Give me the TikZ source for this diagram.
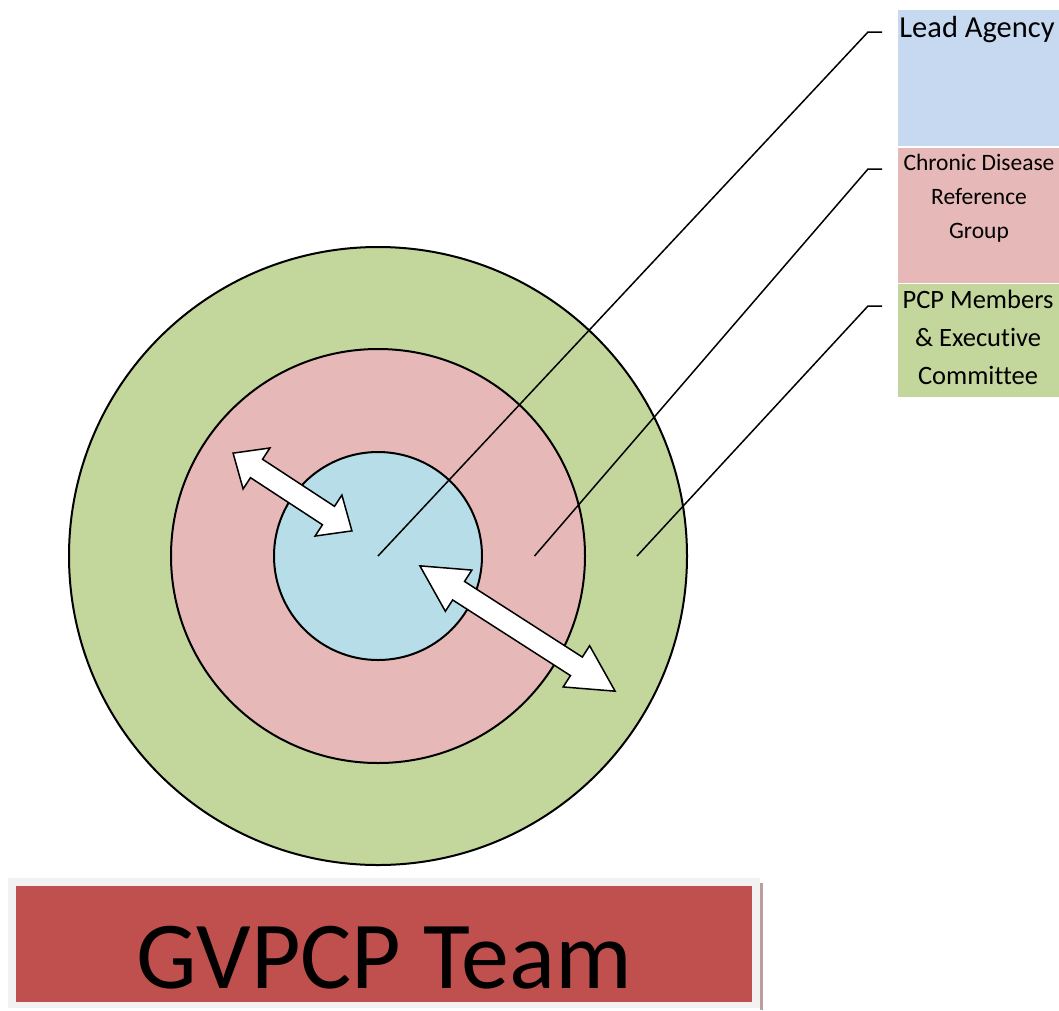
\documentclass[tikz,border=0pt]{standalone}
\usepackage{fontspec}
\setmainfont{Carlito}[Ligatures = NoCommon]
\usetikzlibrary{positioning,calc}
\definecolor{leadBlue}{HTML}{C6D9F1}
\definecolor{cdrgPink}{HTML}{E6B9B8}
\definecolor{pcpGreen}{HTML}{C3D69B}
\definecolor{coreAqua}{HTML}{B7DEE8}
\definecolor{teamRed}{HTML}{C0504D}
\definecolor{frameGray}{HTML}{F2F2F2}
\definecolor{shadeMauve}{HTML}{BF9C9E}
\tikzstyle{ring} = [shape = circle, draw, line width = 2pt, inner sep = 0pt]
\tikzstyle{leader} = [line width = 1.5pt]
\tikzstyle{labelBox} = [shape = rectangle, inner sep = 0pt, minimum width = 161pt, anchor = north west]
\tikzstyle{labelText} = [inner sep = 0pt, align = center, anchor = north]
\tikzstyle{flatBox} = [shape = rectangle, inner sep = 0pt, anchor = north west]
\tikzstyle{twinArrow} = [draw, fill = white, line width = 1.5pt, line join = miter]
\newcommand{\twinArrowShape}[4]{%
	\draw[twinArrow] (-#1,0) -- (-#1+#4,#3) -- (-#1+#4,#2) -- (#1-#4,#2) -- (#1-#4,#3) -- (#1,0)
		-- (#1-#4,-#3) -- (#1-#4,-#2) -- (-#1+#4,-#2) -- (-#1+#4,-#3) -- cycle;}

\begin{document}
\begin{tikzpicture}[x=1pt, y=-1pt]
			\useasboundingbox (0,0) rectangle (1059,1010);
			\node (pcp) at (378,556) [ring, fill = pcpGreen, minimum size = 618pt] {};
			\node (cdrg) at (pcp.center) [ring, fill = cdrgPink, minimum size = 414pt] {};
			\node (core) at (pcp.center) [ring, fill = coreAqua, minimum size = 208pt] {};
			\begin{scope}[shift = {(292.5,492)}, rotate = -33.2]
				\twinArrowShape{71}{11}{24.5}{28}
			\end{scope}
			\begin{scope}[shift = {(517.5,628.5)}, rotate = -32.7]
				\twinArrowShape{116}{11}{24.5}{46}
			\end{scope}
			\node (leadBox) at (898,10) [labelBox, fill = leadBlue, minimum height = 136pt] {};
			\node (cdrgBox) [labelBox, fill = cdrgPink, minimum height = 135pt, below = 1pt of leadBox] {};
			\node (pcpBox) [labelBox, fill = pcpGreen, minimum height = 113pt, below = 1pt of cdrgBox] {};
			\node (leadText) at (977,37) [anchor = base, inner sep = 0pt, font = \fontsize{30.5}{36}\selectfont] {
				Lead Agency
			};
			\node (cdrgText) at (979,154) [labelText, font = \fontsize{23.5}{34}\selectfont] {
				Chronic Disease\\Reference\\Group
			};
			\node (pcpText) at (978,290) [labelText, font = \fontsize{26.5}{38}\selectfont] {
				PCP Members\\\& Executive\\Committee
			};
			\coordinate (leadEnd) at (882,32);
			\coordinate (cdrgEnd) at (882,169);
			\coordinate (pcpEnd) at (882,306);
			\draw[leader] (core.center) -- ([xshift = -14pt]leadEnd) -- (leadEnd);
			\draw[leader] ($(core.east)!0.5!(cdrg.east)$) -- ([xshift = -14pt]cdrgEnd) -- (cdrgEnd);
			\draw[leader] ($(cdrg.east)!0.5!(pcp.east)$) -- ([xshift = -14pt]pcpEnd) -- (pcpEnd);
			\node (teamFrame) at (8,878) [flatBox, fill = frameGray, minimum width = 752pt, minimum height = 130pt] {};
			\node (teamShade) at (760,883) [flatBox, fill = shadeMauve, minimum width = 3pt, minimum height = 127pt] {};
			\node (teamBox) at (16,886) [flatBox, fill = teamRed, minimum width = 736pt, minimum height = 116pt] {};
			\node (teamText) at (teamBox.center |- 0,988) [anchor = base, inner sep = 0pt, font = \fontsize{96}{110}\selectfont] {
				GVPCP Team
			};
\end{tikzpicture}
\end{document}
